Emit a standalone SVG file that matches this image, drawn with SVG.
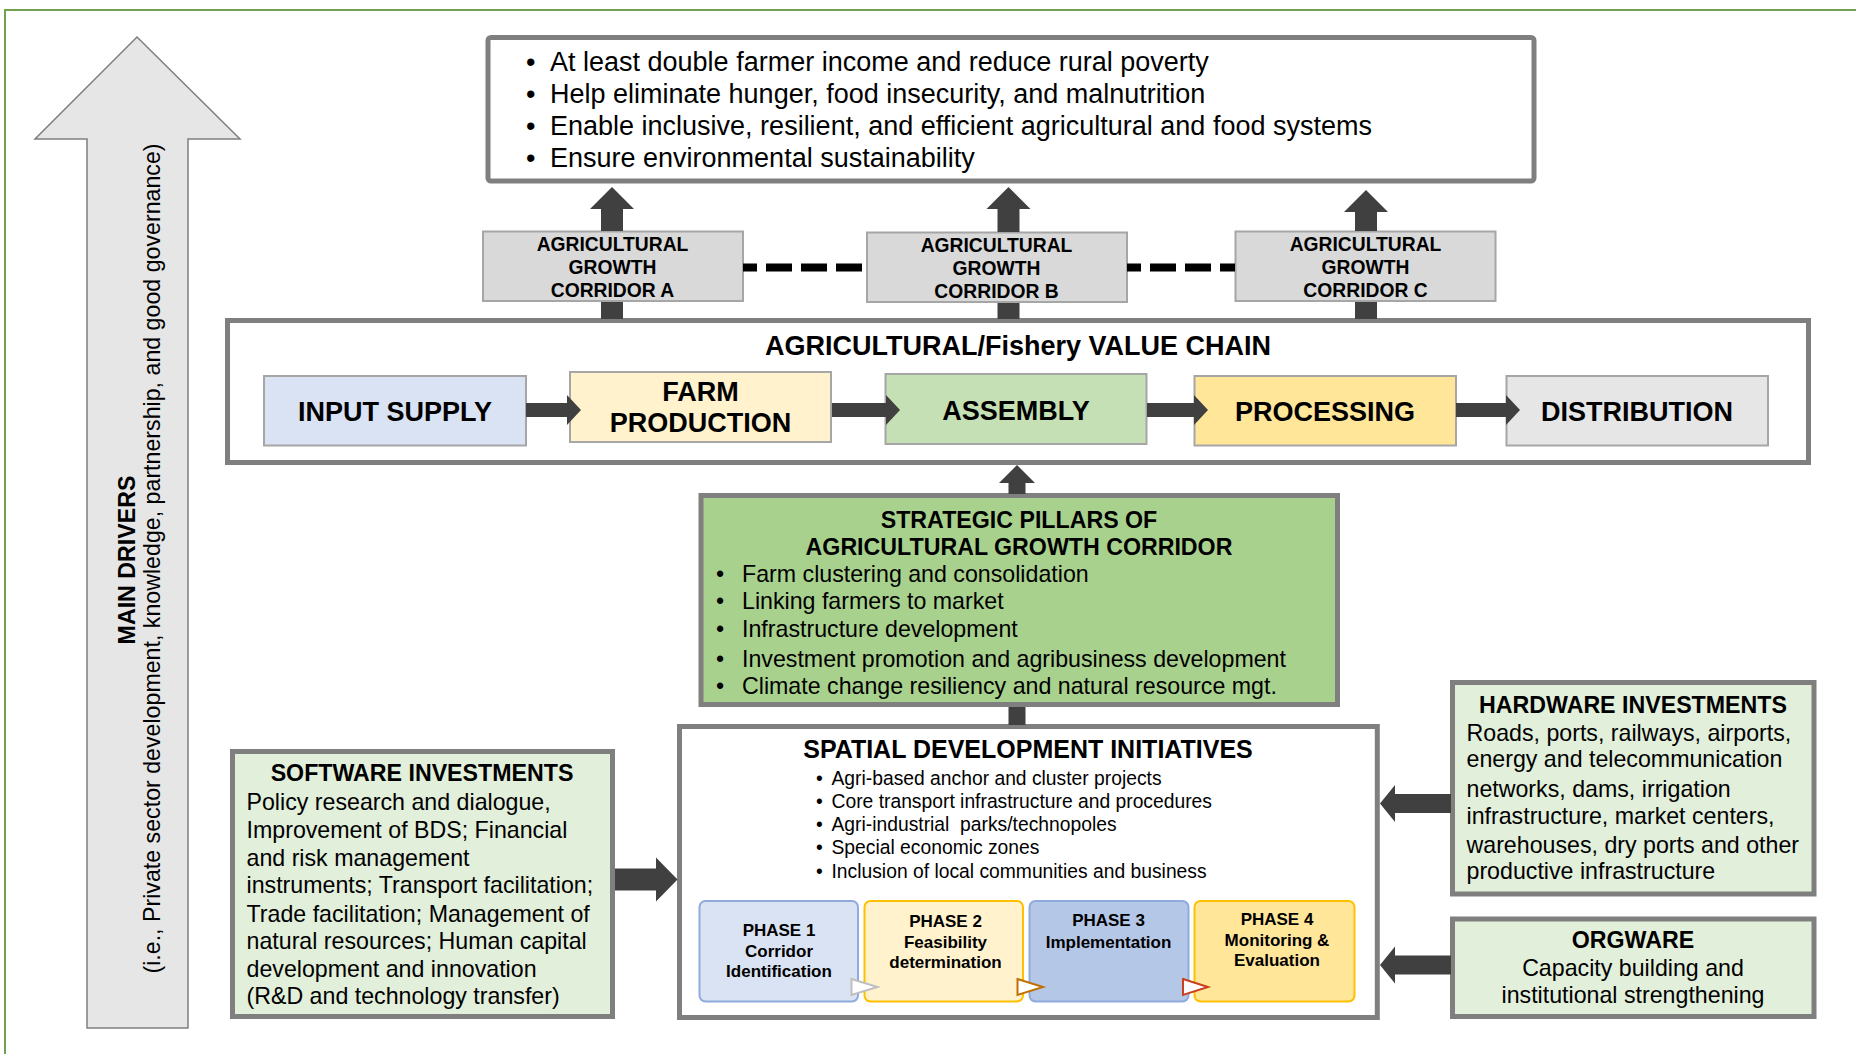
<svg xmlns="http://www.w3.org/2000/svg" width="1856" height="1054" viewBox="0 0 1856 1054">
  <style>
    text { font-family: "Liberation Sans", Arial, sans-serif; fill: #000; }
    .b { font-weight: bold; }
    .c { text-anchor: middle; }
    .pre { white-space: pre; }
    .heavy { stroke: #7f7f7f; stroke-width: 5; }
    .light { stroke: #a6a6a6; stroke-width: 2; }
    .dark { fill: #404040; stroke: none; }
    .f27 { font-size: 27px; }
    .f25 { font-size: 25px; }
    .f23 { font-size: 23.2px; }
    .f19 { font-size: 19.3px; }
    .f17 { font-size: 17px; }
  </style>

  <!-- page frame -->
  <rect x="5" y="10" width="1900" height="1100" fill="#fff" stroke="#70a050" stroke-width="2"/>

  <!-- main drivers arrow -->
  <g id="main-drivers">
    <polygon points="137,37 240,139 188,139 188,1028 87,1028 87,139 35,139" fill="#e6e6e6" stroke="#7f7f7f" stroke-width="1.5"/>
    <text class="b c f23" transform="translate(134.5,560) rotate(-90)">MAIN DRIVERS</text>
    <text class="c f23" transform="translate(160,558.5) rotate(-90)">(i.e., Private sector development, knowledge, partnership, and good governance)</text>
  </g>

  <!-- goals -->
  <g id="goals">
    <rect x="488" y="37.5" width="1046" height="143.5" rx="3" fill="#fff" class="heavy"/>
    <g class="f27">
      <text x="526" y="71">•</text><text x="550" y="71">At least double farmer income and reduce rural poverty</text>
      <text x="526" y="103">•</text><text x="550" y="103">Help eliminate hunger, food insecurity, and malnutrition</text>
      <text x="526" y="135">•</text><text x="550" y="135">Enable inclusive, resilient, and efficient agricultural and food systems</text>
      <text x="526" y="167">•</text><text x="550" y="167">Ensure environmental sustainability</text>
    </g>
  </g>

  <!-- corridors -->
  <g id="corridor-a">
    <rect x="483" y="231.5" width="260" height="69.5" fill="#d9d9d9" class="light"/>
    <text class="b c f19" x="612.5" y="251">AGRICULTURAL</text>
    <text class="b c f19" x="612.5" y="273.5">GROWTH</text>
    <text class="b c f19" x="612.5" y="297">CORRIDOR A</text>
  </g>
  <g id="corridor-b">
    <rect x="867" y="232.5" width="260" height="69.5" fill="#d9d9d9" class="light"/>
    <text class="b c f19" x="996.5" y="252">AGRICULTURAL</text>
    <text class="b c f19" x="996.5" y="274.5">GROWTH</text>
    <text class="b c f19" x="996.5" y="298">CORRIDOR B</text>
  </g>
  <g id="corridor-c">
    <rect x="1235.5" y="231.5" width="260" height="69.5" fill="#d9d9d9" class="light"/>
    <text class="b c f19" x="1365.5" y="251">AGRICULTURAL</text>
    <text class="b c f19" x="1365.5" y="273.5">GROWTH</text>
    <text class="b c f19" x="1365.5" y="297">CORRIDOR C</text>
  </g>

  <!-- value chain -->
  <g id="value-chain">
    <rect x="227.5" y="320.5" width="1581" height="142" fill="#fff" class="heavy"/>
    <text class="b c f27" x="1018" y="355">AGRICULTURAL/Fishery VALUE CHAIN</text>
  </g>
  <g id="input-supply">
    <rect x="264" y="376" width="262" height="69.5" fill="#dae3f3" class="light"/>
    <text class="b c f27" x="395" y="421">INPUT SUPPLY</text>
  </g>
  <g id="farm-production">
    <rect x="570" y="372" width="261" height="70" fill="#fff2cc" class="light"/>
    <text class="b c f27" x="700.5" y="401">FARM</text>
    <text class="b c f27" x="700.5" y="432">PRODUCTION</text>
  </g>
  <g id="assembly">
    <rect x="885.5" y="374" width="261" height="70" fill="#c5e0b4" class="light"/>
    <text class="b c f27" x="1016" y="420">ASSEMBLY</text>
  </g>
  <g id="processing">
    <rect x="1194.5" y="376" width="261.5" height="69.5" fill="#ffe699" class="light"/>
    <text class="b c f27" x="1325" y="420.5">PROCESSING</text>
  </g>
  <g id="distribution">
    <rect x="1506.5" y="376" width="261.5" height="69.5" fill="#e7e6e6" class="light"/>
    <text class="b c f27" x="1637" y="420.5">DISTRIBUTION</text>
  </g>

  <!-- strategic pillars -->
  <g id="strategic-pillars">
    <rect x="701" y="495.5" width="636.5" height="209" fill="#a9d18e" class="heavy"/>
    <text class="b c f23" x="1019" y="528">STRATEGIC PILLARS OF</text>
    <text class="b c f23" x="1019" y="555">AGRICULTURAL GROWTH CORRIDOR</text>
    <g class="f23">
      <text x="716" y="581.5">•</text><text x="742" y="581.5">Farm clustering and consolidation</text>
      <text x="716" y="609">•</text><text x="742" y="609">Linking farmers to market</text>
      <text x="716" y="637">•</text><text x="742" y="637">Infrastructure development</text>
      <text x="716" y="666.5">•</text><text x="742" y="666.5">Investment promotion and agribusiness development</text>
      <text x="716" y="694">•</text><text x="742" y="694">Climate change resiliency and natural resource mgt.</text>
    </g>
  </g>

  <!-- spatial development initiatives -->
  <g id="spatial-initiatives">
    <rect x="679.5" y="726.5" width="697.8" height="291" fill="#fff" class="heavy"/>
    <text class="b c f25" x="1028" y="758">SPATIAL DEVELOPMENT INITIATIVES</text>
    <g class="f19">
      <text x="816" y="784.5">•</text><text x="831.5" y="784.5">Agri-based anchor and cluster projects</text>
      <text x="816" y="807.5">•</text><text x="831.5" y="807.5">Core transport infrastructure and procedures</text>
      <text x="816" y="830.5">•</text><text class="pre" x="831.5" y="830.5">Agri-industrial  parks/technopoles</text>
      <text x="816" y="854">•</text><text x="831.5" y="854">Special economic zones</text>
      <text x="816" y="877.5">•</text><text x="831.5" y="877.5">Inclusion of local communities and business</text>
    </g>
  </g>
  <g id="phase-1">
    <rect x="699.5" y="901" width="158.5" height="100.5" rx="6" fill="#dae3f3" stroke="#8faadc" stroke-width="2"/>
    <text class="b c f17" x="779" y="936">PHASE 1</text>
    <text class="b c f17" x="779" y="957.3">Corridor</text>
    <text class="b c f17" x="779" y="976.5">Identification</text>
  </g>
  <g id="phase-2">
    <rect x="864.5" y="901" width="158.5" height="100.5" rx="6" fill="#fff2cc" stroke="#ffc000" stroke-width="2"/>
    <text class="b c f17" x="945.5" y="927.3">PHASE 2</text>
    <text class="b c f17" x="945.5" y="948.3">Feasibility</text>
    <text class="b c f17" x="945.5" y="968.3">determination</text>
  </g>
  <g id="phase-3">
    <rect x="1029.5" y="901" width="159" height="100.5" rx="6" fill="#b4c7e7" stroke="#8faadc" stroke-width="2"/>
    <text class="b c f17" x="1108.5" y="926.3">PHASE 3</text>
    <text class="b c f17" x="1108.5" y="947.7">Implementation</text>
  </g>
  <g id="phase-4">
    <rect x="1194.5" y="901" width="160" height="100.5" rx="6" fill="#ffe699" stroke="#ffc000" stroke-width="2"/>
    <text class="b c f17" x="1277" y="924.7">PHASE 4</text>
    <text class="b c f17" x="1277" y="946.3">Monitoring &amp;</text>
    <text class="b c f17" x="1277" y="965.7">Evaluation</text>
  </g>

  <!-- investments -->
  <g id="software-investments">
    <rect x="232.5" y="751.5" width="380" height="265" fill="#e2efda" class="heavy"/>
    <text class="b c f23" x="422" y="781">SOFTWARE INVESTMENTS</text>
    <g class="f23">
      <text x="246.5" y="810">Policy research and dialogue,</text>
      <text x="246.5" y="837.5">Improvement of BDS; Financial</text>
      <text x="246.5" y="865.5">and risk management</text>
      <text x="246.5" y="893.3">instruments; Transport facilitation;</text>
      <text x="246.5" y="921.8">Trade facilitation; Management of</text>
      <text x="246.5" y="949.3">natural resources; Human capital</text>
      <text x="246.5" y="976.5">development and innovation</text>
      <text x="246.5" y="1004.4">(R&amp;D and technology transfer)</text>
    </g>
  </g>
  <g id="hardware-investments">
    <rect x="1452.5" y="682.5" width="361.5" height="211.5" fill="#e2efda" class="heavy"/>
    <text class="b c f23" x="1633" y="712.7">HARDWARE INVESTMENTS</text>
    <g class="f23">
      <text x="1466.5" y="740.7">Roads, ports, railways, airports,</text>
      <text x="1466.5" y="767.3">energy and telecommunication</text>
      <text x="1466.5" y="796.7">networks, dams, irrigation</text>
      <text x="1466.5" y="824">infrastructure, market centers,</text>
      <text x="1466.5" y="852.7">warehouses, dry ports and other</text>
      <text x="1466.5" y="879.3">productive infrastructure</text>
    </g>
  </g>
  <g id="orgware">
    <rect x="1452.5" y="919" width="361.5" height="97.5" fill="#e2efda" class="heavy"/>
    <text class="b c f23" x="1633" y="948.3">ORGWARE</text>
    <text class="c f23" x="1633" y="976">Capacity building and</text>
    <text class="c f23" x="1633" y="1002.7">institutional strengthening</text>
  </g>

  <!-- connectors -->
  <g id="connectors">
    <!-- corridors up to goals -->
    <polygon class="dark" points="612,187 634,209 623,209 623,231 601,231 601,209 590,209"/>
    <rect class="dark" x="601" y="302" width="22" height="17"/>
    <polygon class="dark" points="1008.5,187 1030.5,209 1019.5,209 1019.5,232 997.5,232 997.5,209 986.5,209"/>
    <rect class="dark" x="997.5" y="303" width="22" height="16"/>
    <polygon class="dark" points="1366,190 1388,212 1377,212 1377,231 1355,231 1355,212 1344,212"/>
    <rect class="dark" x="1355" y="302" width="22" height="17"/>
    <!-- corridor links -->
    <line x1="743" y1="267.5" x2="866" y2="267.5" stroke="#000" stroke-width="8" stroke-dasharray="26 9" stroke-dashoffset="12"/>
    <line x1="1127" y1="267.5" x2="1235" y2="267.5" stroke="#000" stroke-width="8" stroke-dasharray="26 9" stroke-dashoffset="12"/>
    <!-- value chain flow -->
    <polygon class="dark" points="526,403 567,403 567,395 581,410 567,425 567,417 526,417"/>
    <polygon class="dark" points="832,403 886,403 886,395 900,410 886,425 886,417 832,417"/>
    <polygon class="dark" points="1147,403 1194,403 1194,395 1208,410 1194,425 1194,417 1147,417"/>
    <polygon class="dark" points="1456,403 1506,403 1506,395 1520,410 1506,425 1506,417 1456,417"/>
    <!-- pillars up to value chain -->
    <polygon class="dark" points="1017,465 1035,483 1025.5,483 1025.5,494 1008.5,494 1008.5,483 999,483"/>
    <rect class="dark" x="1008.5" y="707" width="17" height="18"/>
    <!-- investments into spatial initiatives -->
    <polygon class="dark" points="615,868.5 656,868.5 656,857.5 677.5,879.5 656,901.5 656,890.5 615,890.5"/>
    <polygon class="dark" points="1451,794 1395,794 1395,785 1380,803.5 1395,822 1395,813 1451,813"/>
    <polygon class="dark" points="1451,955.5 1395,955.5 1395,946.5 1380,965 1395,983.5 1395,974.5 1451,974.5"/>
    <!-- phase sequence markers -->
    <polygon points="851.5,979 877.5,987 851.5,995" fill="#fff" stroke="#bfbfbf" stroke-width="2"/>
    <polygon points="1017.5,979 1043,987 1017.5,995" fill="#fff" stroke="#c07000" stroke-width="2"/>
    <polygon points="1183,979 1208,987 1183,995" fill="#fff" stroke="#c9401e" stroke-width="2"/>
  </g>
</svg>
